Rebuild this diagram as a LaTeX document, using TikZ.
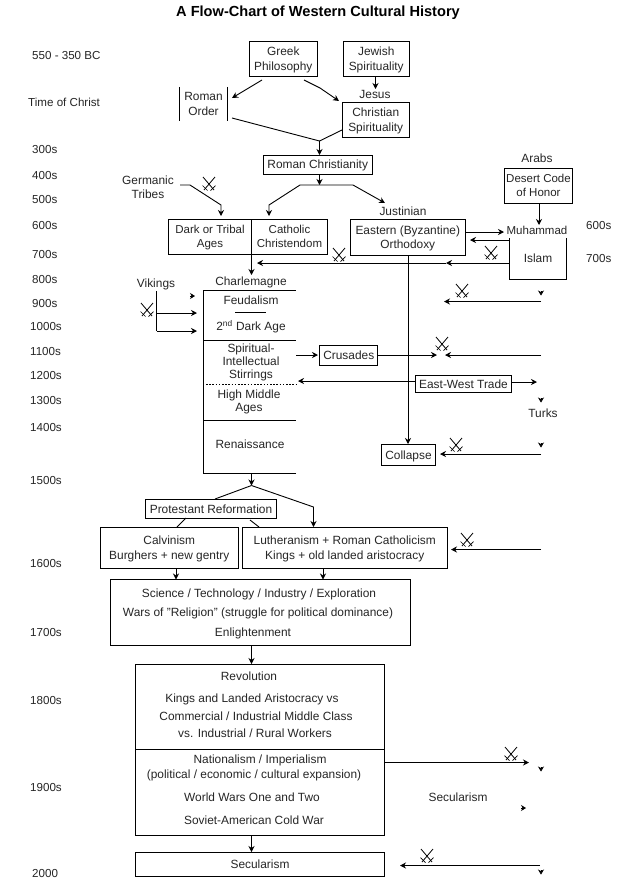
\documentclass[tikz,border=0pt]{standalone}
\usepackage{fontspec}
\setmainfont{Liberation Sans}
\usetikzlibrary{arrows.meta}
\tikzset{
  every node/.style={font=\fontsize{11.9}{14.5}\selectfont,inner sep=0pt,align=center,text=black!85,text depth=0pt},
  box/.style={draw=black,text=black!85,line width=0.9pt},
  open/.style={text=black!85},
  lab/.style={text height=10.2pt,text depth=2.4pt},
  date/.style={text height=11.2pt,text depth=2.4pt,anchor=west,font=\fontsize{11.6}{14.5}\selectfont},
  narrow/.style={font=\fontsize{11.5}{14.5}\selectfont},
  line/.style={line width=0.9pt,draw=black},
  arr/.style={line,-{Stealth[length=6pt,width=6pt]}},
  stub/.style={-{Stealth[length=5pt,width=6pt]},line width=0.6pt,draw=black},
  swords/.pic={
    \draw[line width=0.8pt] (-6,-7)--(5,6) (6,-7)--(-5,6);
    \draw[line width=0.7pt] (-6.5,1.5)--(-1.5,6.5) (6.5,1.5)--(1.5,6.5);
  }
}
\begin{document}
\begin{tikzpicture}[x=1pt,y=-1pt]
\useasboundingbox (0,0) rectangle (640,884);
\fill[white] (0,0) rectangle (640,884);
% title
\node[font=\fontsize{14.6}{16}\selectfont\bfseries,text=black,text depth=3pt] (title) at (318,13) {A Flow-Chart of Western Cultural History};
% dates
\node[date] (d1) at (32,55) {550 - 350 BC};
\node[date] (d2) at (28,102) {Time of Christ};
\node[date] (d3) at (32,149) {300s};
\node[date] (d4) at (32,175) {400s};
\node[date] (d5) at (32,199) {500s};
\node[date] (d6) at (32,225) {600s};
\node[date] (d7) at (32,254) {700s};
\node[date] (d8) at (32,279) {800s};
\node[date] (d9) at (32,303) {900s};
\node[date] (d10) at (30,326) {1000s};
\node[date] (d11) at (30,351) {1100s};
\node[date] (d12) at (30,375) {1200s};
\node[date] (d13) at (30,400) {1300s};
\node[date] (d14) at (30,427) {1400s};
\node[date] (d15) at (30,480) {1500s};
\node[date] (d16) at (30,563) {1600s};
\node[date] (d17) at (30,632) {1700s};
\node[date] (d18) at (30,700) {1800s};
\node[date] (d19) at (30,787) {1900s};
\node[date] (d20) at (32,873) {2000};
\node[date] (d21) at (586,225) {600s};
\node[date] (d22) at (586,258) {700s};
% top boxes
\node[box,minimum width=67.5pt,minimum height=35pt] (greek) at (283.25,58.5) {Greek\\Philosophy};
\node[box,minimum width=66.5pt,minimum height=35pt] (jewish) at (376.25,58.5) {Jewish\\Spirituality};
\node[lab] (jesus) at (375,95) {Jesus};
\node[box,minimum width=67.5pt,minimum height=35pt,fill=white] (christian) at (375.75,119.5) {Christian\\Spirituality};
\node[open,minimum width=48pt,minimum height=34pt] (roman) at (203.5,104) {Roman\\Order};
\draw[line] (roman.north west)--(roman.south west) (roman.north east)--(roman.south east);
\node[box,minimum width=109.5pt,minimum height=19pt] (romchr) at (317.75,164.5) {Roman Christianity};
\node[lab] (arabs) at (537,159) {Arabs};
\node[box,narrow,minimum width=68pt,minimum height=35pt] (desert) at (538.5,185.5) {Desert Code\\of Honor};
\node (germanic) at (148,187) {Germanic\\Tribes};
\node[lab] (justinian) at (403,212) {Justinian};
% dark ages / catholic
\node[box,narrow,minimum width=83pt,minimum height=35pt] (dark) at (210,236.5) {Dark or Tribal\\Ages};
\node[box,narrow,minimum width=76pt,minimum height=35pt] (catholic) at (289.5,236.5) {Catholic\\Christendom};
\node[box,minimum width=114.5pt,minimum height=36pt] (eastern) at (407.75,237) {Eastern (Byzantine)\\Orthodoxy};
\node[lab,narrow] (muhammad) at (537,231) {Muhammad};
\node[lab,minimum width=57pt,minimum height=41pt] (islam) at (538,259) {Islam};
\draw[line] (islam.north west)--(islam.south west)--(islam.south east)--(islam.north east);
% medieval column
\node[lab] (charlemagne) at (251,282) {Charlemagne};
\node[lab] (vikings) at (156,284) {Vikings};
\coordinate (mtl) at (203.5,290.5); \coordinate (mtr) at (296,290.5);
\coordinate (m1l) at (203.5,340.5); \coordinate (m1r) at (296,340.5);
\coordinate (m2l) at (203.5,420); \coordinate (m2r) at (296,420);
\coordinate (mbl) at (203.5,473); \coordinate (mbr) at (296,473);
\coordinate (dotl) at (206,384); \coordinate (dotr) at (296,384);
\coordinate (shl) at (235,312.5); \coordinate (shr) at (266,312.5);
\draw[line] (mbr)--(mbl)--(mtl)--(mtr) (m1l)--(m1r) (m2l)--(m2r) (shl)--(shr);
\draw[line width=0.9pt,dash pattern=on 1.6pt off 1.6pt] (dotl)--(dotr);
\node[lab] (feudal) at (251,301) {Feudalism};
\node[lab] (dark2) at (251,327) {2\textsuperscript{nd} Dark Age};
\node (spirit) at (251,361.5) {Spiritual-\\[-1.5pt]Intellectual\\[-1.5pt]Stirrings};
\node (high) at (249,401) {High Middle\\[-1.5pt]Ages};
\node[lab] (renaiss) at (250,445) {Renaissance};
\node[box,minimum width=58pt,minimum height=20pt] (crusades) at (348.75,355.5) {Crusades};
\node[box,minimum width=96.5pt,minimum height=17pt,fill=white] (trade) at (463.5,383.75) {East-West Trade};
\node[lab] (turks) at (543,414) {Turks};
\node[box,minimum width=54pt,minimum height=21pt] (collapse) at (408.5,454.75) {Collapse};
% reformation
\node[box,minimum width=131pt,minimum height=19pt] (prot) at (211,509) {Protestant Reformation};
\node[box,minimum width=137.5pt,minimum height=41pt] (calvin) at (169.25,547.75) {Calvinism\\Burghers + new gentry};
\node[box,minimum width=205pt,minimum height=41pt] (luther) at (344.75,547.75) {Lutheranism + Roman Catholicism\\Kings + old landed aristocracy};
% science
\node[box,minimum width=300pt,minimum height=66pt] (science) at (260.5,612.25) {};
\node[lab] (sc1) at (259,594) {Science / Technology / Industry / Exploration};
\node[lab] (sc2) at (258,613) {Wars of "Religion" (struggle for political dominance)};
\node[lab] (sc3) at (253,633) {Enlightenment};
% revolution
\node[box,minimum width=249pt,minimum height=171.2pt] (rev) at (260,749.9) {};
\coordinate (revl) at (135.5,749); \coordinate (revr) at (384.5,749);
\draw[line] (revl)--(revr);
\node[lab] (r1) at (249,677) {Revolution};
\node[lab] (r2) at (252,699) {Kings and Landed Aristocracy vs};
\node[lab] (r3) at (256,717) {Commercial / Industrial Middle Class};
\node[lab] (r4) at (255,734) {vs. Industrial / Rural Workers};
\node[lab] (r5) at (260,760) {Nationalism / Imperialism};
\node[lab] (r6) at (254,775) {(political / economic / cultural expansion)};
\node[lab] (r7) at (252,798) {World Wars One and Two};
\node[lab] (r8) at (254,821) {Soviet-American Cold War};
\node[box,lab,minimum width=249pt,minimum height=24pt] (secbox) at (260,864.3) {Secularism};
\node[lab] (secfree) at (458,798) {Secularism};
% free ends
\coordinate (g1) at (262,80); \coordinate (g2) at (232,98);
\coordinate (g3) at (304,80); \coordinate (g4) at (320,88); \coordinate (g5) at (339,101);
\coordinate (j1) at (375.5,76); \coordinate (j2) at (375.5,89);
\coordinate (ro1) at (232,118); \coordinate (ro2) at (319.5,141); \coordinate (ro3) at (319.5,155);
\coordinate (cs1) at (342,130);
\coordinate (rc1) at (319.5,174); \coordinate (rc2) at (319.5,185);
\coordinate (rl1) at (300,185); \coordinate (rl2) at (269,205); \coordinate (rl3) at (269,216);
\coordinate (rr1) at (353,185); \coordinate (rr2) at (385,203);
\coordinate (ge1) at (180,185); \coordinate (ge2) at (190,185); \coordinate (ge3) at (221,205); \coordinate (ge4) at (221,216);
\coordinate (de1) at (539,203); \coordinate (de2) at (539,225);
\coordinate (ea1) at (465,232); \coordinate (ea2) at (504,232);
\coordinate (is1) at (509.5,240); \coordinate (is2) at (470,240);
\coordinate (is3) at (509.5,263); \coordinate (is4) at (446,263); \coordinate (is5) at (257,263);
\coordinate (ca1) at (251.5,254); \coordinate (ca2) at (251.5,275);
\coordinate (ea3) at (408,255); \coordinate (ea4) at (408,444);
\coordinate (v0) at (156.5,291); \coordinate (v1) at (156.5,313); \coordinate (v2) at (156.5,331);
\coordinate (v3) at (197,313); \coordinate (v4) at (197,331);
\coordinate (t1) at (541,301.5); \coordinate (t2) at (444,301.5);
\coordinate (c1) at (296,355); \coordinate (c2) at (318,355);
\coordinate (c3) at (377.5,355); \coordinate (c4) at (437,355);
\coordinate (c5) at (541,355); \coordinate (c6) at (445,355);
\coordinate (w1) at (415.5,381); \coordinate (w2) at (298,381);
\coordinate (w3) at (511.5,382); \coordinate (w4) at (537,382);
\coordinate (k1) at (541,454); \coordinate (k2) at (440,454);
\coordinate (b1) at (251.5,473); \coordinate (b2) at (251.5,485.5); \coordinate (b3) at (215,499);
\coordinate (b4) at (313.5,507); \coordinate (b5) at (313.5,527);
\coordinate (p1) at (186,518); \coordinate (p2) at (177,527);
\coordinate (p3) at (250,520); \coordinate (p4) at (259,527);
\coordinate (l1) at (541,549.5); \coordinate (l2) at (451,549.5);
\coordinate (f1) at (176,568); \coordinate (f2) at (176,579.5);
\coordinate (f3) at (323,568); \coordinate (f4) at (323,579.5);
\coordinate (s1) at (251.5,645); \coordinate (s2) at (251.5,664);
\coordinate (n1) at (384.5,762.5); \coordinate (n2) at (529,762.5);
\coordinate (q1) at (251.5,835.5); \coordinate (q2) at (251.5,852);
\coordinate (y1) at (540,865.5); \coordinate (y2) at (400,865.5);
% connectors
\draw[arr] (g1)--(g2);
\draw[arr] (g3)--(g4)--(g5);
\draw[arr] (j1)--(j2);
\draw[arr] (ro1)--(ro2)--(ro3);
\draw[line] (cs1)--(ro2);
\draw[arr] (rc1)--(rc2);
\draw[arr] (rc2)--(rl1)--(rl2)--(rl3);
\draw[arr] (rc2)--(rr1)--(rr2);
\draw[arr] (ge1)--(ge2)--(ge3)--(ge4);
\draw[arr] (de1)--(de2);
\draw[arr] (ea1)--(ea2);
\draw[arr] (is1)--(is2);
\draw[arr] (is3)--(is4);
\draw[arr] (is4)--(is5);
\draw[arr] (ca1)--(ca2);
\draw[arr] (ea3)--(ea4);
\draw[line] (v0)--(v2);
\draw[arr] (v1)--(v3);
\draw[arr] (v2)--(v4);
\draw[arr] (t1)--(t2);
\draw[arr] (c1)--(c2);
\draw[arr] (c3)--(c4);
\draw[arr] (c5)--(c6);
\draw[arr] (w1)--(w2);
\draw[arr] (w3)--(w4);
\draw[arr] (k1)--(k2);
\draw[arr] (b1)--(b2);
\draw[line] (b2)--(b3);
\draw[arr] (b2)--(b4)--(b5);
\draw[line] (p1)--(p2) (p3)--(p4);
\draw[arr] (l1)--(l2);
\draw[arr] (f1)--(f2);
\draw[arr] (f3)--(f4);
\draw[arr] (s1)--(s2);
\draw[arr] (n1)--(n2);
\draw[arr] (q1)--(q2);
\draw[arr] (y1)--(y2);
% stray arrowheads
\draw[stub] (541,291)--(541,295.5);
\draw[stub] (541,398)--(541,402.5);
\draw[stub] (541,443)--(541,447.5);
\draw[stub] (541,767)--(541,771.5);
\draw[stub] (541,870)--(541,874.5);
\draw[stub] (521,808)--(526,808);
\draw[stub] (190,296)--(195,296);
% crossed swords
\pic at (209,184) {swords};
\pic at (339,255) {swords};
\pic at (491,253) {swords};
\pic at (147,310) {swords};
\pic at (462,291) {swords};
\pic at (442,344) {swords};
\pic at (456,445) {swords};
\pic at (467,540) {swords};
\pic at (511,754) {swords};
\pic at (427,856) {swords};
\end{tikzpicture}
\end{document}
